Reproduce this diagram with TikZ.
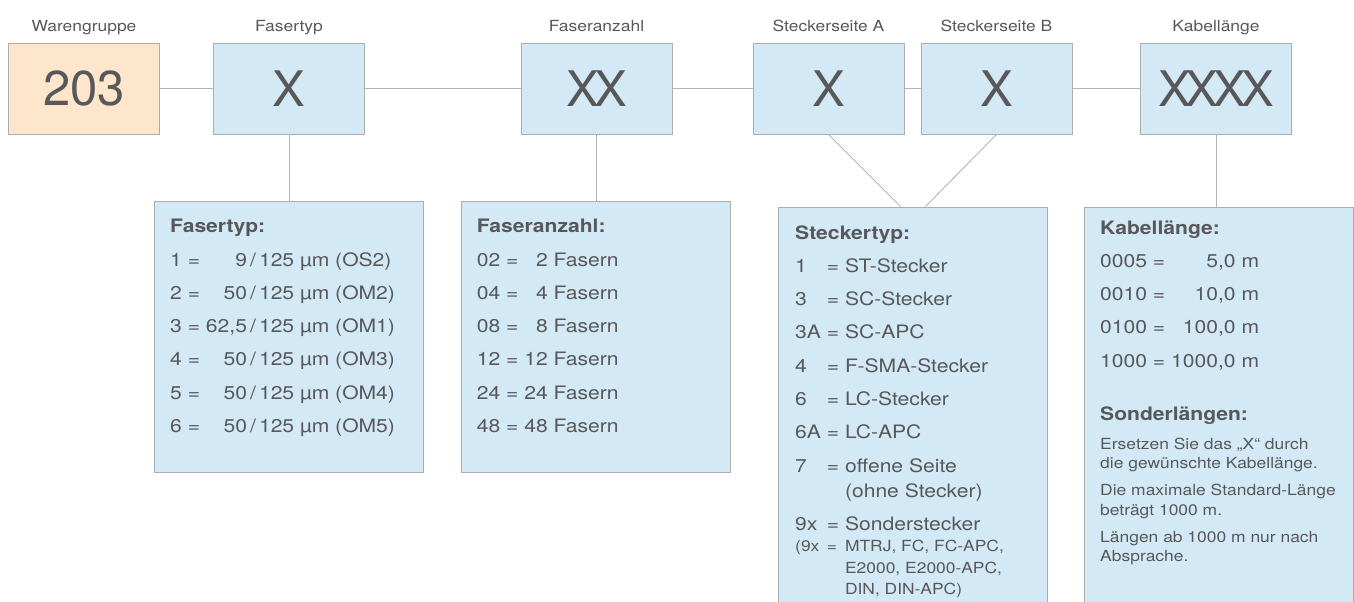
\documentclass[tikz,border=0pt]{standalone}
\usepackage{fontspec}
\setmainfont{TeX Gyre Heros}[FakeStretch=1.14]
\newfontfamily\bigfont{TeX Gyre Heros}
\newfontfamily\bigxfont{TeX Gyre Heros}[LetterSpace=-10]
\definecolor{boxblue}{HTML}{D3E9F6}
\definecolor{boxorange}{HTML}{FEE6CD}
\definecolor{rimgray}{HTML}{ADADAD}
\definecolor{linegray}{HTML}{B4B4B4}
\definecolor{textgray}{HTML}{58585A}
\newcommand{\headfont}{\fontsize{15.3}{18}\selectfont}
\newcommand{\codefont}{\bigfont\fontsize{49}{55}\selectfont}
\newcommand{\xcodefont}{\bigxfont\fontsize{49}{55}\selectfont}
\newcommand{\listfont}{\fontsize{18.5}{33.3}\selectfont}
\newcommand{\notefont}{\fontsize{15.3}{19.5}\selectfont}

\begin{document}
\begin{tikzpicture}[x=1pt,y=-1pt,
        codebox/.style={draw=rimgray,line width=0.9pt,fill=boxblue,minimum width=151pt,minimum height=91pt,inner sep=0pt,text=textgray,font=\xcodefont},
        infobox/.style={draw=rimgray,line width=0.9pt,fill=boxblue,minimum width=269pt,inner sep=0pt},
        head/.style={anchor=base,inner sep=0pt,text=textgray,font=\headfont},
        listtext/.style={anchor=base west,inner sep=0pt,text=textgray,font=\listfont},
        link/.style={draw=linegray,line width=0.9pt}]
        % Page
        \useasboundingbox (0,0) rectangle (1354,602);
        \clip (0,0) rectangle (1354,602);
        % Code fields
        \node[codebox,fill=boxorange,font=\codefont] (wg) at (84,88.5) {203};
        \node[codebox] (ft) at (289,88.5) {X};
        \node[codebox] (fa) at (596.5,88.5) {XX};
        \node[codebox] (sa) at (828.5,88.5) {X};
        \node[codebox] (sb) at (996.5,88.5) {X};
        \node[codebox] (kl) at (1216,88.5) {XXXX};
        % Field headings
        \node[head] (wghead) at (84,32) {Warengruppe};
        \node[head] (fthead) at (289,32) {Fasertyp};
        \node[head] (fahead) at (596.5,32) {Faseranzahl};
        \node[head] (sahead) at (828.5,32) {Steckerseite A};
        \node[head] (sbhead) at (996.5,32) {Steckerseite B};
        \node[head] (klhead) at (1216,32) {Kabellänge};
        % Chain
        \draw[link] (wg) -- (ft);
        \draw[link] (ft) -- (fa);
        \draw[link] (fa) -- (sa);
        \draw[link] (sa) -- (sb);
        \draw[link] (sb) -- (kl);
        % Legend boxes
        \node[infobox,minimum height=271pt] (ftbox) at (288.5,336.5) {};
        \node[infobox,minimum height=271pt] (fabox) at (596,336.5) {};
        \node[infobox,minimum height=440pt] (stbox) at (912.5,427) {};
        \node[infobox,minimum height=440pt] (klbox) at (1218.5,427) {};
        % Legend links
        \draw[link] (ft.south) -- (ft.south |- ftbox.north);
        \draw[link] (fa.south) -- (fa.south |- fabox.north);
        \draw[link] (sa.south) -- ([xshift=-12pt]stbox.north);
        \draw[link] (sb.south) -- ([xshift=13pt]stbox.north);
        \draw[link] (kl.south) -- (kl.south |- klbox.north);
        % Fasertyp
        \node[listtext] (ftlist) at (170,232.7) {\begin{tabular}[t]{@{}l@{\ }r@{}l@{}}
            \multicolumn{3}{@{}l@{}}{\bfseries Fasertyp:}\\
            1 = & 9 & \,/\,125 µm (OS2)\\
            2 = & 50 & \,/\,125 µm (OM2)\\
            3 = & 62,5 & \,/\,125 µm (OM1)\\
            4 = & 50 & \,/\,125 µm (OM3)\\
            5 = & 50 & \,/\,125 µm (OM4)\\
            6 = & 50 & \,/\,125 µm (OM5)
        \end{tabular}};
        % Faseranzahl
        \node[listtext] (falist) at (476.7,232.7) {\begin{tabular}[t]{@{}l@{\ }r@{\ }l@{}}
            \multicolumn{3}{@{}l@{}}{\bfseries Faseranzahl:}\\
            02 = & 2 & Fasern\\
            04 = & 4 & Fasern\\
            08 = & 8 & Fasern\\
            12 = & 12 & Fasern\\
            24 = & 24 & Fasern\\
            48 = & 48 & Fasern
        \end{tabular}};
        % Steckertyp
        \node[listtext] (stlist) at (795,239) {\begin{tabular}[t]{@{}l@{\ }l@{\ }l@{}}
            \multicolumn{3}{@{}l@{}}{\bfseries Steckertyp:}\\
            1 & = & ST-Stecker\\
            3 & = & SC-Stecker\\
            3A & = & SC-APC\\
            4 & = & F-SMA-Stecker\\
            6 & = & LC-Stecker\\
            6A & = & LC-APC\\
            7 & = & offene Seite\\[-8.3pt]
             & & (ohne Stecker)\\
            9x & = & Sonderstecker\\[-12pt]
            \notefont (9x & \notefont = & \notefont MTRJ, FC, FC-APC,\\[-11.8pt]
             & & \notefont E2000, E2000-APC,\\[-11.8pt]
             & & \notefont DIN, DIN-APC)
        \end{tabular}};
        % Kabellaenge
        \node[listtext] (kllist) at (1100,234) {\begin{tabular}[t]{@{}l@{\ }l@{\ }r@{}}
            \multicolumn{3}{@{}l@{}}{\bfseries Kabellänge:}\\
            0005 & = & 5,0 m\\
            0010 & = & 10,0 m\\
            0100 & = & 100,0 m\\
            1000 & = & 1000,0 m
        \end{tabular}};
        \node[listtext,font=\listfont\bfseries] (klson) at (1100,420.7) {Sonderlängen:};
        \node[listtext,font=\notefont] (klnote) at (1100,449) {\begin{tabular}[t]{@{}l@{}}
            Ersetzen Sie das „X“ durch\\
            die gewünschte Kabellänge.\\[7.5pt]
            Die maximale Standard-Länge\\
            beträgt 1000 m.\\[7.5pt]
            Längen ab 1000 m nur nach\\
            Absprache.
        \end{tabular}};
\end{tikzpicture}
\end{document}
